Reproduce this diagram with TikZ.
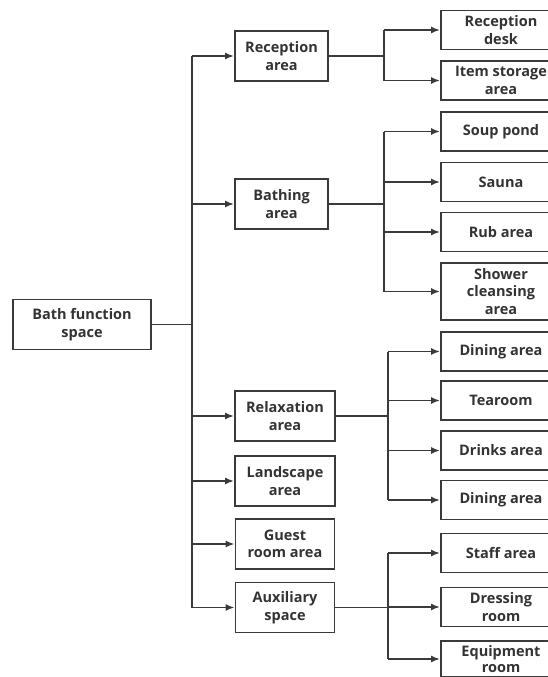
\documentclass[tikz,border=0pt]{standalone}
\usepackage{fontspec}
\setmainfont{Open Sans}
\usetikzlibrary{arrows.meta}
\definecolor{ln}{HTML}{3A3A3A}
\tikzset{
  box/.style={draw=ln, line width=1.8pt, align=center, inner sep=0pt,
    font=\bfseries\fontsize{14.5}{17.5}\selectfont, text=black!80},
  midbox/.style={box, minimum height=50pt},
  leafbox/.style={box, minimum width=120pt, minimum height=39pt},
  conn/.style={draw=ln, line width=1.9pt},
  arr/.style={conn, -{Latex[length=9pt,width=7pt]}},
}
\begin{document}
\begin{tikzpicture}[x=1pt,y=-1pt]
\useasboundingbox (0,0) rectangle (548,677);
\clip (0,0) rectangle (548,677);
% root
\node[box, minimum width=138pt, minimum height=50pt] (root) at (82,324.5) {Bath function\\space};
% middle
\node[midbox, minimum width=93pt] (rec) at (281.5,56) {Reception\\area};
\node[midbox, minimum width=93pt] (bat) at (281.5,204) {Bathing\\area};
\node[midbox, minimum width=100pt] (rel) at (285,416) {Relaxation\\area};
\node[midbox, minimum width=100pt] (lan) at (285,481) {Landscape\\area};
\node[midbox, minimum width=99pt] (gue) at (285,544) {Guest\\room area};
\node[midbox, minimum width=99pt] (aux) at (285,607.5) {Auxiliary\\space};
% leaves
\node[leafbox] (rd) at (501,30) {Reception\\desk};
\node[leafbox] (isa) at (501,80.5) {Item storage\\area};
\node[leafbox] (sp) at (501,131.5) {Soup pond};
\node[leafbox] (sa) at (501,182) {Sauna};
\node[leafbox] (rub) at (501,232) {Rub area};
\node[leafbox, minimum height=57pt] (sho) at (501,291.5) {Shower\\cleansing\\area};
\node[leafbox] (din1) at (501,351.5) {Dining area};
\node[leafbox] (tea) at (501,400.5) {Tearoom};
\node[leafbox] (dri) at (501,450.5) {Drinks area};
\node[leafbox] (din2) at (501,500) {Dining area};
\node[leafbox] (sta) at (501,553) {Staff area};
\node[leafbox] (dre) at (501,607) {Dressing\\room};
\node[leafbox, minimum height=36pt, font=\bfseries\fontsize{14.5}{16.5}\selectfont] (equ) at (501,659) {Equipment\\room};
% trunk
\coordinate (tr) at (192,0);
\draw[conn] (root.east) -- (tr |- root.east);
\draw[conn] (tr |- rec.west) -- (tr |- aux.west);
\foreach \n in {rec,bat,rel,lan,gue,aux}
  \draw[arr] (tr |- \n.west) -- (\n.west);
% reception branch
\coordinate (b1) at (384,0);
\draw[conn] (rec.east) -- (b1 |- rec.east);
\draw[conn] (b1 |- rd.west) -- (b1 |- isa.west);
\foreach \n in {rd,isa} \draw[arr] (b1 |- \n.west) -- (\n.west);
% bathing branch
\coordinate (b2) at (384,0);
\draw[conn] (bat.east) -- (b2 |- bat.east);
\draw[conn] (b2 |- sp.west) -- (b2 |- sho.west);
\foreach \n in {sp,sa,rub,sho} \draw[arr] (b2 |- \n.west) -- (\n.west);
% relaxation branch
\coordinate (b3) at (388,0);
\draw[conn] (rel.east) -- (b3 |- rel.east);
\draw[conn] (b3 |- din1.west) -- (b3 |- din2.west);
\foreach \n in {din1,tea,dri,din2} \draw[arr] (b3 |- \n.west) -- (\n.west);
% auxiliary branch
\coordinate (b4) at (388,0);
\draw[conn] (aux.east) -- (b4 |- aux.east);
\draw[conn] (b4 |- sta.west) -- (b4 |- equ.west);
\foreach \n in {sta,dre,equ} \draw[arr] (b4 |- \n.west) -- (\n.west);
\end{tikzpicture}
\end{document}
